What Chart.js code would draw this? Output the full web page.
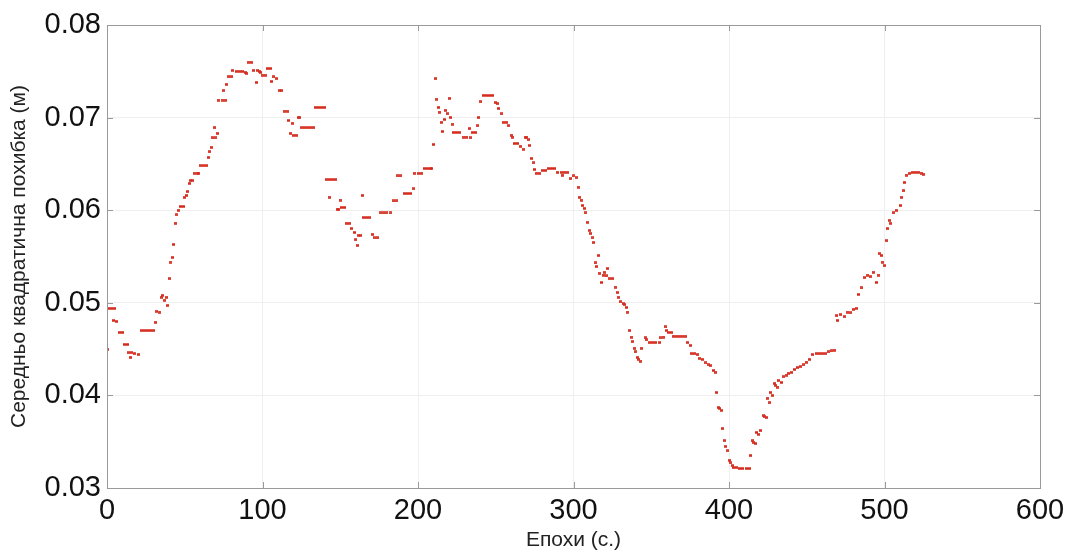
<!DOCTYPE html>
<html>
<head>
<meta charset="utf-8">
<script src="https://cdn.jsdelivr.net/npm/chart.js@4/dist/chart.umd.min.js"></script>
<style>
  html, body { margin: 0; padding: 0; background: #fff; }
  #wrap { width: 1071px; height: 553px; }
</style>
</head>
<body>
<div id="wrap"><canvas id="myChart" width="1071" height="553"></canvas></div>
<script>
const epochs = [
  0, 1, 3, 4, 5, 6, 8, 10, 11, 13,
  14, 15, 16, 18, 20, 22, 24, 26, 28, 30,
  31, 32, 34, 35, 36, 37, 38, 39, 40, 41,
  42, 43, 44, 45, 46, 47, 49, 50, 51, 52,
  53, 54, 55, 56, 58, 59, 60, 62, 64, 65,
  66, 67, 68, 69, 70, 71, 72, 74, 75, 76,
  77, 78, 80, 81, 83, 85, 87, 89, 90, 91,
  93, 94, 96, 97, 98, 99, 100, 102, 103, 105,
  106, 107, 109, 111, 112, 114, 116, 117, 118, 119,
  120, 122, 123, 124, 125, 127, 129, 131, 133, 134,
  136, 138, 140, 141, 143, 143, 145, 147, 148, 149,
  150, 151, 153, 154, 156, 157, 159, 160, 161, 162,
  163, 164, 165, 167, 169, 171, 172, 174, 176, 178,
  180, 182, 184, 186, 187, 189, 191, 193, 195, 197,
  198, 200, 202, 204, 206, 208, 209, 210, 211, 212,
  213, 214, 215, 216, 217, 218, 219, 220, 221, 222,
  223, 225, 227, 229, 231, 233, 234, 235, 237, 238,
  239, 240, 242, 244, 246, 248, 250, 251, 252, 254,
  255, 257, 258, 260, 261, 262, 264, 266, 268, 269,
  270, 271, 272, 273, 274, 275, 276, 278, 280, 282,
  284, 286, 288, 290, 292, 293, 294, 296, 298, 300,
  302, 303, 304, 305, 306, 307, 308, 309, 310, 311,
  312, 313, 314, 315, 316, 317, 318, 319, 320, 321,
  322, 323, 325, 327, 328, 329, 330, 332, 333, 334,
  335, 336, 337, 338, 339, 340, 341, 342, 343, 344,
  346, 347, 349, 351, 353, 355, 356, 358, 359, 360,
  361, 363, 364, 366, 368, 370, 372, 373, 375, 376,
  378, 380, 381, 383, 385, 387, 388, 390, 391, 392,
  393, 394, 395, 396, 397, 398, 399, 400, 401, 402,
  403, 405, 407, 409, 411, 413, 414, 415, 416, 417,
  418, 419, 420, 422, 423, 424, 425, 426, 427, 428,
  429, 430, 431, 432, 434, 435, 437, 438, 440, 442,
  444, 446, 448, 450, 452, 454, 456, 458, 460, 462,
  464, 466, 468, 469, 470, 472, 474, 476, 478, 480,
  482, 483, 485, 487, 489, 491, 493, 495, 496, 497,
  498, 499, 500, 501, 502, 503, 504, 506, 508, 510,
  511, 512, 513, 514, 516, 518, 520, 522, 524, 525
]
const rmsError = [
  0.0450, 0.0494, 0.0494, 0.0481, 0.0494, 0.0480, 0.0468, 0.0468, 0.0455, 0.0455,
  0.0446, 0.0441, 0.0446, 0.0445, 0.0444, 0.0470, 0.0470, 0.0470, 0.0470, 0.0470,
  0.0479, 0.0491, 0.0490, 0.0506, 0.0508, 0.0503, 0.0506, 0.0497, 0.0526, 0.0544,
  0.0549, 0.0563, 0.0586, 0.0595, 0.0600, 0.0604, 0.0604, 0.0614, 0.0616, 0.0620,
  0.0629, 0.0632, 0.0632, 0.0640, 0.0640, 0.0640, 0.0648, 0.0648, 0.0648, 0.0657,
  0.0663, 0.0668, 0.0678, 0.0689, 0.0678, 0.0683, 0.0719, 0.0719, 0.0729, 0.0719,
  0.0736, 0.0744, 0.0744, 0.0751, 0.0750, 0.0750, 0.0750, 0.0749, 0.0748, 0.0760,
  0.0760, 0.0751, 0.0738, 0.0751, 0.0750, 0.0749, 0.0746, 0.0746, 0.0753, 0.0753,
  0.0739, 0.0744, 0.0742, 0.0729, 0.0729, 0.0707, 0.0707, 0.0697, 0.0683, 0.0694,
  0.0681, 0.0681, 0.0700, 0.0700, 0.0689, 0.0689, 0.0689, 0.0689, 0.0689, 0.0711,
  0.0711, 0.0711, 0.0711, 0.0633, 0.0633, 0.0614, 0.0633, 0.0633, 0.0601, 0.0601,
  0.0611, 0.0603, 0.0603, 0.0586, 0.0586, 0.0580, 0.0576, 0.0568, 0.0562, 0.0573,
  0.0573, 0.0616, 0.0592, 0.0592, 0.0592, 0.0574, 0.0570, 0.0570, 0.0597, 0.0597,
  0.0597, 0.0597, 0.0610, 0.0610, 0.0637, 0.0637, 0.0618, 0.0618, 0.0618, 0.0623,
  0.0640, 0.0640, 0.0640, 0.0645, 0.0645, 0.0645, 0.0645, 0.0671, 0.0742, 0.0720,
  0.0711, 0.0706, 0.0695, 0.0685, 0.0698, 0.0708, 0.0704, 0.0721, 0.0700, 0.0693,
  0.0684, 0.0684, 0.0684, 0.0679, 0.0679, 0.0688, 0.0678, 0.0684, 0.0684, 0.0691,
  0.0700, 0.0717, 0.0724, 0.0724, 0.0724, 0.0724, 0.0716, 0.0715, 0.0710, 0.0704,
  0.0695, 0.0695, 0.0691, 0.0681, 0.0679, 0.0672, 0.0672, 0.0669, 0.0666, 0.0679,
  0.0679, 0.0676, 0.0670, 0.0656, 0.0651, 0.0644, 0.0640, 0.0640, 0.0643, 0.0643,
  0.0645, 0.0645, 0.0645, 0.0641, 0.0641, 0.0638, 0.0641, 0.0641, 0.0634, 0.0637,
  0.0635, 0.0625, 0.0614, 0.0611, 0.0605, 0.0602, 0.0597, 0.0587, 0.0578, 0.0575,
  0.0570, 0.0565, 0.0543, 0.0539, 0.0551, 0.0532, 0.0522, 0.0530, 0.0533, 0.0529,
  0.0537, 0.0526, 0.0526, 0.0517, 0.0511, 0.0506, 0.0501, 0.0499, 0.0498, 0.0495,
  0.0490, 0.0470, 0.0463, 0.0458, 0.0451, 0.0447, 0.0441, 0.0439, 0.0437, 0.0451,
  0.0462, 0.0460, 0.0457, 0.0457, 0.0457, 0.0457, 0.0462, 0.0463, 0.0474, 0.0470,
  0.0468, 0.0468, 0.0464, 0.0464, 0.0464, 0.0464, 0.0464, 0.0457, 0.0454, 0.0445,
  0.0445, 0.0444, 0.0440, 0.0439, 0.0435, 0.0433, 0.0432, 0.0427, 0.0425, 0.0403,
  0.0387, 0.0386, 0.0384, 0.0364, 0.0351, 0.0345, 0.0340, 0.0330, 0.0327, 0.0324,
  0.0322, 0.0322, 0.0321, 0.0321, 0.0321, 0.0321, 0.0335, 0.0351, 0.0349, 0.0348,
  0.0360, 0.0358, 0.0362, 0.0378, 0.0377, 0.0376, 0.0397, 0.0392, 0.0403, 0.0400,
  0.0413, 0.0411, 0.0409, 0.0416, 0.0414, 0.0420, 0.0422, 0.0424, 0.0425, 0.0428,
  0.0430, 0.0431, 0.0433, 0.0436, 0.0439, 0.0444, 0.0445, 0.0445, 0.0445, 0.0445,
  0.0447, 0.0448, 0.0449, 0.0486, 0.0481, 0.0487, 0.0485, 0.0490, 0.0489, 0.0493,
  0.0494, 0.0509, 0.0516, 0.0527, 0.0530, 0.0528, 0.0533, 0.0522, 0.0530, 0.0553,
  0.0551, 0.0544, 0.0540, 0.0567, 0.0580, 0.0589, 0.0586, 0.0597, 0.0600, 0.0605,
  0.0614, 0.0621, 0.0630, 0.0638, 0.0640, 0.0641, 0.0641, 0.0641, 0.0640, 0.0639
]
const xTicks = [0, 100, 200, 300, 400, 500, 600]
const yTicks = [0.03, 0.04, 0.05, 0.06, 0.07, 0.08]
const xTitle = "Епохи (с.)"
const yTitle = "Середньо квадратична похибка (м)"

const points = epochs.map((e, i) => ({x: e, y: rmsError[i]}))

// small marker so runs of equal values merge into dashes
const marker = document.createElement("canvas")
marker.width = 3
marker.height = 3
const mctx = marker.getContext("2d")
mctx.fillStyle = "rgba(226, 60, 45, 0.55)"
mctx.fillRect(0, 0, 3, 3)
mctx.fillStyle = "#d22a1d"
mctx.fillRect(0, 0.5, 3, 2)

const fontFamily = "'Liberation Sans', Arial, sans-serif"

// frame with inward ticks, drawn on top of the plot
const frame = {
  id: "frame",
  afterDatasetsDraw(chart) {
    const {ctx, chartArea: a, scales} = chart
    ctx.save()
    ctx.strokeStyle = "#9a9a9a"
    ctx.lineWidth = 1
    ctx.beginPath()
    xTicks.forEach(v => {
      const px = Math.round(scales.x.getPixelForValue(v)) + 0.5
      ctx.moveTo(px, a.top); ctx.lineTo(px, a.top + 6)
      ctx.moveTo(px, a.bottom); ctx.lineTo(px, a.bottom - 6)
    })
    yTicks.forEach(v => {
      const py = Math.round(scales.y.getPixelForValue(v)) + 0.5
      ctx.moveTo(a.left, py); ctx.lineTo(a.left + 6, py)
      ctx.moveTo(a.right, py); ctx.lineTo(a.right - 6, py)
    })
    ctx.stroke()
    ctx.strokeRect(Math.round(a.left) + 0.5, Math.round(a.top) + 0.5,
      Math.round(a.right - a.left), Math.round(a.bottom - a.top))
    ctx.restore()
  }
}

const ctx = document.getElementById("myChart")
new Chart(ctx, {
  type: "scatter",
  data: {
    datasets: [{
      data: points,
      pointStyle: marker,
      pointRadius: 1.5,
      pointHoverRadius: 1.5
    }]
  },
  options: {
    responsive: false,
    animation: false,
    layout: {padding: {left: 3, top: 25, right: 31, bottom: 0}},
    plugins: {legend: {display: false}, tooltip: {enabled: false}},
    scales: {
      x: {
        type: "linear",
        min: 0,
        max: 600,
        afterBuildTicks: s => { s.ticks = xTicks.map(v => ({value: v})) },
        afterFit: s => { s.height = 65 },
        grid: {color: "#efefef", drawTicks: false},
        border: {display: false},
        ticks: {color: "#111", padding: 6, font: {family: fontFamily, size: 29}, maxRotation: 0},
        title: {display: true, text: xTitle, color: "#222", font: {family: fontFamily, size: 21}, padding: {top: 0, bottom: 0}}
      },
      y: {
        min: 0.03,
        max: 0.08,
        afterBuildTicks: s => { s.ticks = yTicks.map(v => ({value: v})) },
        afterFit: s => { s.width = 104 },
        grid: {color: "#efefef", drawTicks: false},
        border: {display: false},
        ticks: {color: "#111", padding: 6, font: {family: fontFamily, size: 29}, callback: v => v.toFixed(2)},
        title: {display: true, text: yTitle, color: "#222", font: {family: fontFamily, size: 21}, padding: {top: 4, bottom: 4}}
      }
    }
  },
  plugins: [frame]
})
</script>
</body>
</html>
